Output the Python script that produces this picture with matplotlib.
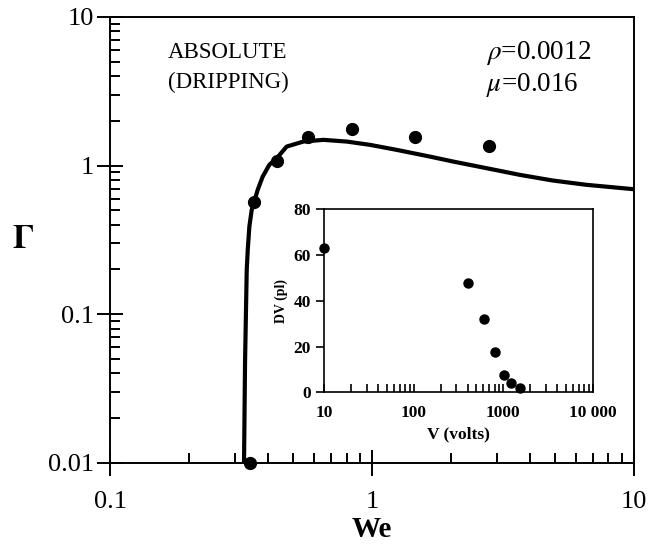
import matplotlib.pyplot as plt
from matplotlib.ticker import LogLocator, NullFormatter, FixedLocator, FixedFormatter

plt.rcParams['font.family'] = ['Liberation Serif', 'DejaVu Serif']
plt.rcParams['mathtext.fontset'] = 'stix'

# main chart: measured growth rate vs Weber number
we_pts = [0.342, 0.355, 0.434, 0.57, 0.84, 1.46, 2.8]
gamma_pts = [0.01, 0.57, 1.08, 1.56, 1.77, 1.56, 1.36]

# theory curve
we_curve = [0.3246, 0.3275, 0.3324, 0.3354, 0.3402, 0.3473, 0.3553, 0.3661, 0.3825,
            0.4055, 0.4339, 0.4725, 0.547, 0.652, 0.801, 0.983, 1.243, 1.665, 2.043,
            2.74, 3.67, 4.91, 6.60, 9.94]
gamma_curve = [0.01, 0.0471, 0.199, 0.271, 0.389, 0.504, 0.573, 0.687, 0.843,
               1.011, 1.127, 1.342, 1.450, 1.489, 1.450, 1.378, 1.275, 1.149, 1.064,
               0.960, 0.866, 0.793, 0.742, 0.694]

# inset: drop volume vs voltage
volts = [10, 401, 604, 817, 1020, 1222, 1528]
dv = [63.2, 48, 32, 17.8, 7.5, 4.1, 1.75]

fig = plt.figure(figsize=(6.48, 5.44), dpi=100)
ax = fig.add_axes([0.170, 0.149, 0.808, 0.820])

ax.plot(we_curve, gamma_curve, color='black', lw=3, solid_joinstyle='round', clip_on=True)
ax.plot(we_pts, gamma_pts, 'o', color='black', ms=8.5, clip_on=False)

ax.set_xscale('log')
ax.set_yscale('log')
ax.set_xlim(0.1, 10)
ax.set_ylim(0.01, 10)
for s in ax.spines.values():
    s.set_linewidth(1.4)

ax.set_xticks([0.1, 1, 10])
ax.set_xticklabels(['0.1', '1', '10'])
ax.set_yticks([0.01, 0.1, 1, 10])
ax.set_yticklabels(['0.01', '0.1', '1', '10'])
ax.xaxis.set_minor_locator(LogLocator(base=10, subs=range(2, 10)))
ax.yaxis.set_minor_locator(LogLocator(base=10, subs=range(2, 10)))
ax.xaxis.set_minor_formatter(NullFormatter())
ax.yaxis.set_minor_formatter(NullFormatter())
ax.tick_params(which='major', direction='inout', length=19, width=1.4, labelsize=19)
ax.tick_params(which='minor', direction='in', length=7, width=1.4)
ax.tick_params(axis='x', which='major', pad=11)
ax.tick_params(axis='y', which='major', pad=2)

ax.set_xlabel('We', fontsize=21, fontweight='bold', labelpad=2)
ax.set_ylabel(r'$\mathbf{\Gamma}$', fontsize=24, rotation=0, labelpad=18, va='center')

ax.text(0.11, 0.919, 'ABSOLUTE', transform=ax.transAxes, fontsize=16.5, va='center')
ax.text(0.11, 0.854, '(DRIPPING)', transform=ax.transAxes, fontsize=16.5, va='center')
ax.text(0.718, 0.919, r'$\rho$=0.0012', transform=ax.transAxes, fontsize=19.5, va='center')
ax.text(0.718, 0.848, r'$\mu$=0.016', transform=ax.transAxes, fontsize=19.5, va='center')

# inset
ins = fig.add_axes([0.500, 0.279, 0.415, 0.336])
ins.plot(volts, dv, 'o', color='black', ms=6.5, clip_on=False)
ins.set_xscale('log')
ins.set_xlim(10, 10000)
ins.set_ylim(0, 80)
for s in ins.spines.values():
    s.set_linewidth(1.2)
ins.xaxis.set_major_locator(FixedLocator([10, 100, 1000, 10000]))
ins.xaxis.set_major_formatter(FixedFormatter(['10', '100', '1000', '10 000']))
ins.xaxis.set_minor_locator(LogLocator(base=10, subs=range(2, 10)))
ins.xaxis.set_minor_formatter(NullFormatter())
ins.set_yticks([0, 20, 40, 60, 80])
ins.tick_params(axis='x', which='both', direction='in', length=6, width=1.2, labelsize=12.5, pad=9)
ins.tick_params(axis='y', which='major', direction='out', length=6, width=1.2, labelsize=12.5)
for lbl in ins.get_xticklabels() + ins.get_yticklabels():
    lbl.set_fontweight('bold')
ins.set_xlabel('V (volts)', fontsize=12.5, fontweight='bold', labelpad=4)
ins.set_ylabel('DV (pl)', fontsize=10, fontweight='bold', labelpad=4)

fig.savefig('out.png', dpi=100)
